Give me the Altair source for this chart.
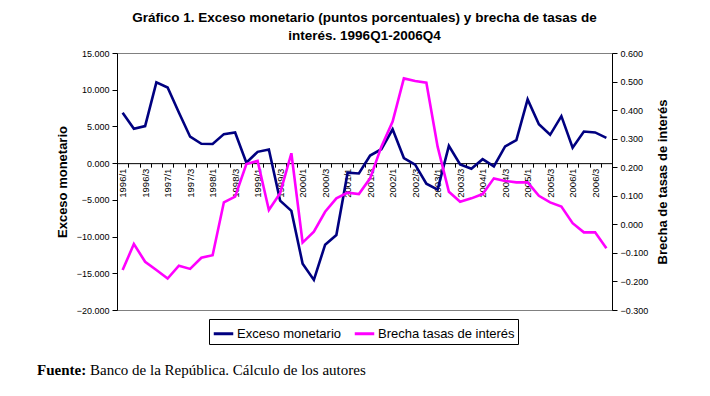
import altair as alt
import pandas as pd

trimestres = [
    "1996/1", "1996/2", "1996/3", "1996/4", "1997/1", "1997/2", "1997/3", "1997/4",
    "1998/1", "1998/2", "1998/3", "1998/4", "1999/1", "1999/2", "1999/3", "1999/4",
    "2000/1", "2000/2", "2000/3", "2000/4", "2001/1", "2001/2", "2001/3", "2001/4",
    "2002/1", "2002/2", "2002/3", "2002/4", "2003/1", "2003/2", "2003/3", "2003/4",
    "2004/1", "2004/2", "2004/3", "2004/4", "2005/1", "2005/2", "2005/3", "2005/4",
    "2006/1", "2006/2", "2006/3", "2006/4",
]
exceso = [
    6.85, 4.67, 5.04, 11.0, 10.3, 6.9, 3.6, 2.63,
    2.6, 3.95, 4.18, 0.05, 1.54, 1.86, -5.1, -6.5,
    -13.7, -15.9, -11.1, -9.8, -1.3, -1.4, 1.04, 1.9,
    4.6, 0.7, -0.2, -2.8, -3.6, 2.36, -0.18, -0.77,
    0.54, -0.45, 2.27, 3.13, 8.68, 5.3, 3.86, 6.4,
    2.1, 4.3, 4.18, 3.45,
]
brecha = [
    -0.160, -0.069, -0.131, -0.160, -0.190, -0.145, -0.156, -0.117,
    -0.108, 0.077, 0.097, 0.211, 0.222, 0.050, 0.109, 0.249,
    -0.064, -0.026, 0.044, 0.091, 0.111, 0.106, 0.161, 0.272,
    0.360, 0.511, 0.502, 0.496, 0.272, 0.114, 0.079, 0.091,
    0.106, 0.161, 0.152, 0.147, 0.147, 0.100, 0.077, 0.062,
    0.004, -0.028, -0.028, -0.084,
]
series = ["Exceso monetario", "Brecha tasas de interés"]
colores = ["#000080", "#FF00FF"]
ticks_izq = [-20, -15, -10, -5, 0, 5, 10, 15]
ticks_der = [-0.3, -0.2, -0.1, 0.0, 0.1, 0.2, 0.3, 0.4, 0.5, 0.6]
titulo = ["Gráfico 1. Exceso monetario (puntos porcentuales) y brecha de tasas de",
          "interés. 1996Q1-2006Q4"]
fuente_bold = ["Fuente:"]
fuente_txt = ["Banco de la República. Cálculo de los autores"]

W, H = 495, 257

df1 = pd.DataFrame({"trimestre": trimestres, "valor": exceso, "serie": series[0]})
df2 = pd.DataFrame({"trimestre": trimestres, "valor": brecha, "serie": series[1]})

FONT = "Liberation Sans"

x_enc = alt.X(
    "trimestre:O",
    sort=trimestres,
    bandPosition=0.5,
    scale=alt.Scale(type="band", paddingInner=0, paddingOuter=0),
    axis=alt.Axis(
        title=None,
        labelAngle=270,
        labelExpr="(slice(datum.label, -1) == '1' || slice(datum.label, -1) == '3') ? datum.label : ''",
        tickBand="extent",
        offset=-H * 20 / 35,
        domainColor="black",
        tickColor="black",
        tickSize=4,
        labelPadding=1,
        labelFont=FONT,
        labelFontSize=9.5,
        labelColor="black",
        labelOverlap=False,
        grid=False,
    ),
)

color_enc = alt.Color(
    "serie:N",
    scale=alt.Scale(domain=series, range=colores),
    legend=alt.Legend(
        orient="none",
        legendX=92,
        legendY=266,
        direction="horizontal",
        title=None,
        symbolType="stroke",
        symbolSize=380,
        symbolStrokeWidth=3,
        labelFont=FONT,
        labelFontSize=13,
        labelColor="black",
        labelOffset=2,
        columnPadding=6,
        strokeColor="black",
        padding=3,
    ),
)

left = alt.Chart(df1).mark_line(strokeWidth=2.6).encode(
    x=x_enc,
    y=alt.Y(
        "valor:Q",
        scale=alt.Scale(domain=[-20, 15], nice=False, zero=False),
        axis=alt.Axis(
            orient="left",
            values=ticks_izq,
            format=".3f",
            title="Exceso monetario",
            titleFont=FONT,
            titleFontSize=13,
            titleFontWeight="bold",
            titleColor="black",
            titleAngle=270,
            titleX=-55,
            titleY=H / 2,
            titleAlign="center",
            titleBaseline="middle",
            labelFont=FONT,
            labelFontSize=9,
            labelColor="black",
            tickSize=5,
            labelPadding=3,
            domainColor="black",
            tickColor="black",
            grid=False,
        ),
    ),
    color=color_enc,
)

right = alt.Chart(df2).mark_line(strokeWidth=2.6).encode(
    x=x_enc,
    y=alt.Y(
        "valor:Q",
        scale=alt.Scale(domain=[-0.3, 0.6], nice=False, zero=False),
        axis=alt.Axis(
            orient="right",
            values=ticks_der,
            format=".3f",
            title="Brecha de tasas de interés",
            titleFont=FONT,
            titleFontSize=13,
            titleFontWeight="bold",
            titleColor="black",
            titleAngle=270,
            titleX=50,
            titleY=H / 2,
            titleAlign="center",
            titleBaseline="middle",
            labelFont=FONT,
            labelFontSize=9,
            labelColor="black",
            tickSize=5,
            labelPadding=3,
            domainColor="black",
            tickColor="black",
            grid=False,
        ),
    ),
    color=color_enc,
)

foot1 = alt.Chart(pd.DataFrame({"t": fuente_bold})).mark_text(
    align="left", baseline="middle", font="Liberation Serif", fontSize=15,
    fontWeight="bold", color="black",
).encode(x=alt.value(-80), y=alt.value(317), text="t:N")

foot2 = alt.Chart(pd.DataFrame({"t": fuente_txt})).mark_text(
    align="left", baseline="middle", font="Liberation Serif", fontSize=15,
    color="black",
).encode(x=alt.value(-27), y=alt.value(317), text="t:N")

chart = (
    alt.layer(left, right, foot1, foot2)
    .resolve_scale(y="independent")
    .properties(
        width=W,
        height=H,
        title=alt.Title(
            titulo,
            font=FONT,
            fontSize=13.5,
            fontWeight="bold",
            color="black",
            anchor="middle",
            offset=7,
            lineHeight=18,
        ),
        autosize=alt.AutoSizeParams(type="none"),
        padding={"left": 109, "top": 45, "right": 80, "bottom": 72},
        background="white",
    )
    .configure_view(stroke="#808080", strokeWidth=1)
)

chart.save("out.html", embed_options={"renderer": "svg", "actions": False})
